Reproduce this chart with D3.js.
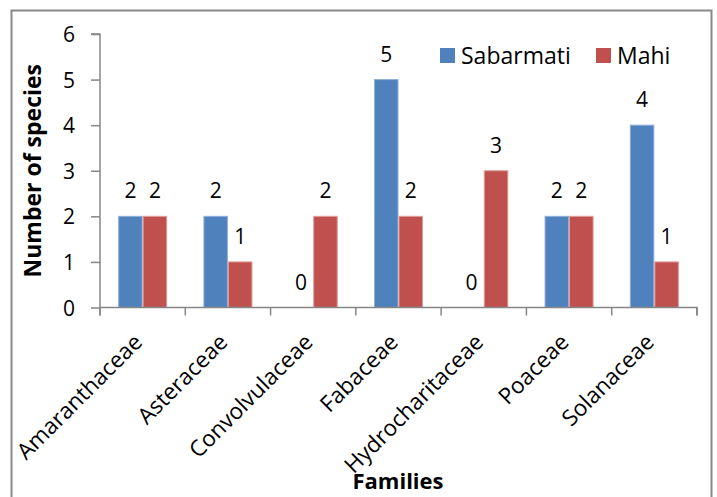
<!DOCTYPE html>
<html>
<head>
<meta charset="utf-8">
<script src="https://cdn.jsdelivr.net/npm/d3@7"></script>
<style>
  html, body { margin: 0; padding: 0; background: #fff; }
  svg { display: block; }
  text { font-family: "Open Sans", "Liberation Sans", sans-serif; fill: #000; }
</style>
</head>
<body>
<svg id="chart" width="717" height="497"></svg>
<script>
const categories = ["Amaranthaceae", "Asteraceae", "Convolvulaceae", "Fabaceae", "Hydrocharitaceae", "Poaceae", "Solanaceae"];
const seriesNames = ["Sabarmati", "Mahi"];
const sabarmati = [2, 2, 0, 5, 0, 2, 4];
const mahi = [2, 1, 2, 2, 3, 2, 1];
const yTicks = [0, 1, 2, 3, 4, 5, 6];
const colors = ["#4F81BD", "#C0504D"];
const strokes = ["#8DB0DB", "#E09B99"];

const svg = d3.select("#chart");
const plot = { left: 100, right: 697, top: 34, bottom: 307.5 };

// outer border
svg.append("rect").attr("x", 11.5).attr("y", 10.5).attr("width", 700).attr("height", 500)
  .attr("fill", "none").attr("stroke", "#898989").attr("stroke-width", 2);

const x = d3.scaleBand().domain(categories).range([plot.left, plot.right]);
const groupW = x.bandwidth() * 0.575;
const x1 = d3.scaleBand().domain(seriesNames)
  .range([(x.bandwidth() - groupW) / 2, (x.bandwidth() + groupW) / 2]);
const y = d3.scaleLinear().domain([0, 6]).range([plot.bottom, plot.top]);

// bars
const data = categories.map((c, i) => ({ cat: c, vals: [sabarmati[i], mahi[i]] }));
const groups = svg.append("g").selectAll("g").data(data).join("g")
  .attr("transform", d => `translate(${x(d.cat)},0)`);
groups.selectAll("rect").data(d => d.vals.map((v, j) => ({ v, j })))
  .join("rect")
  .attr("x", d => x1(seriesNames[d.j]) + 0.5)
  .attr("width", x1.bandwidth() - 1)
  .attr("y", d => y(d.v))
  .attr("height", d => Math.max(0, y(0) - y(d.v)))
  .attr("fill", d => colors[d.j])
  .attr("stroke", d => d.v > 0 ? strokes[d.j] : "none")
  .attr("stroke-width", 1);

// data labels
groups.selectAll("text.lbl").data(d => d.vals.map((v, j) => ({ v, j })))
  .join("text").attr("class", "lbl")
  .attr("x", d => x1(seriesNames[d.j]) + x1.bandwidth() / 2)
  .attr("y", d => y(d.v) - 18)
  .attr("text-anchor", "middle")
  .style("font-size", "21px")
  .text(d => d.v);

// y axis
const yAxis = d3.axisLeft(y).tickValues(yTicks).tickSize(9).tickPadding(16).tickFormat(d3.format("d"));
const gy = svg.append("g").attr("transform", `translate(${plot.left},0)`).call(yAxis);
gy.select(".domain").attr("stroke", "#868686").attr("stroke-width", 1.5).attr("d", `M-9,${plot.top}H0V${plot.bottom}`);
gy.selectAll(".tick line").attr("stroke", "#868686").attr("stroke-width", 1.5);
gy.selectAll(".tick text").style("font-size", "21px").attr("font-family", null).attr("dy", "0.36em");

// x axis
const xAxis = d3.axisBottom(x).tickSize(0).tickFormat("");
const gx = svg.append("g").attr("transform", `translate(0,${plot.bottom})`).call(xAxis);
gx.select(".domain").attr("stroke", "#868686").attr("stroke-width", 1.5).attr("d", `M${plot.left},8V0H${plot.right}V8`);
const bounds = categories.map(c => x(c)).concat([plot.right]);
gx.selectAll("line.sep").data(bounds).join("line").attr("class", "sep")
  .attr("x1", d => d).attr("x2", d => d).attr("y1", 0).attr("y2", 8)
  .attr("stroke", "#868686").attr("stroke-width", 1.5);

// category labels
svg.append("g").selectAll("text").data(categories).join("text")
  .attr("transform", d => `translate(${x(d) + x.bandwidth() / 2 + 1},${plot.bottom + 36}) rotate(-45)`)
  .attr("text-anchor", "end")
  .style("font-size", "22.5px")
  .text(d => d);

// axis titles
svg.append("text")
  .attr("transform", `translate(41,${(plot.top + plot.bottom) / 2}) rotate(-90)`)
  .attr("text-anchor", "middle")
  .style("font-size", "23px").style("font-weight", "bold")
  .text("Number of species");
svg.append("text")
  .attr("x", 398).attr("y", 489)
  .attr("text-anchor", "middle")
  .style("font-size", "22px").style("font-weight", "bold")
  .text("Families");

// legend
const legend = svg.append("g");
const legX = [440, 596];
seriesNames.forEach((s, i) => {
  legend.append("rect").attr("x", legX[i]).attr("y", 48).attr("width", 15).attr("height", 15).attr("fill", colors[i]);
  legend.append("text").attr("x", legX[i] + 21).attr("y", 64).style("font-size", "23px").text(s);
});
</script>
</body>
</html>
